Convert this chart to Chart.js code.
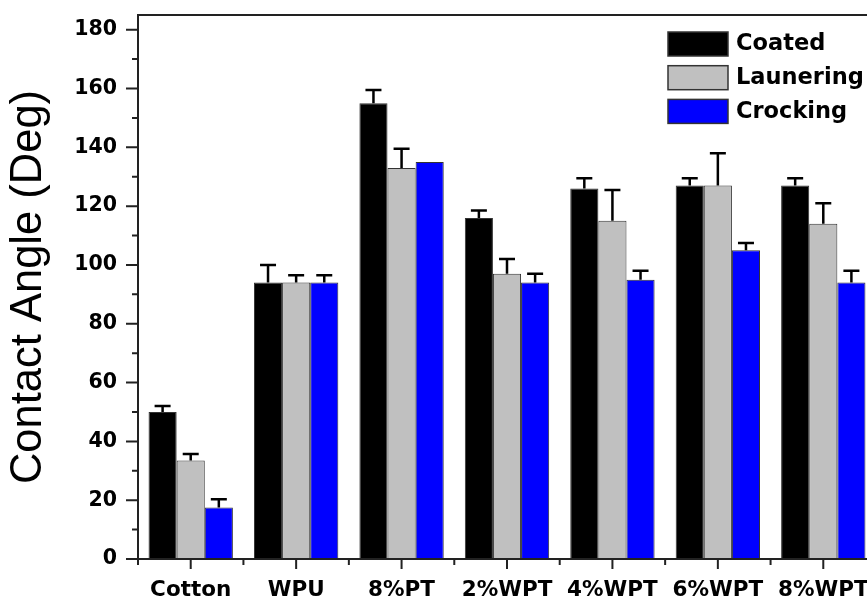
<!DOCTYPE html>
<html>
<head>
<meta charset="utf-8">
<title>Contact Angle</title>
<script src="https://cdn.jsdelivr.net/npm/chart.js@4.4.1/dist/chart.umd.min.js"></script>
<style>
  html, body { margin: 0; padding: 0; overflow: hidden; background: #ffffff; }
  #wrap { width: 900px; height: 600px; }
</style>
</head>
<body>
<div id="wrap"><canvas id="c" width="900" height="600"></canvas></div>
<script>
// Sample groups along the x axis
const categories = ['Cotton', 'WPU', '8%PT', '2%WPT', '4%WPT', '6%WPT', '8%WPT'];

// Contact angle (deg) and upper error for each treatment
const coated = [50, 94, 155, 116, 126, 127, 127];
const coatedErr = [2, 6, 4.5, 2.5, 3.5, 2.5, 2.5];
const launering = [33.5, 94, 133, 97, 115, 127, 114];
const launeringErr = [2.2, 2.5, 6.5, 5, 10.5, 11, 7];
const crocking = [17.5, 94, 135, 94, 95, 105, 94];
const crockingErr = [2.8, 2.5, 0, 3, 3, 2.5, 4];

// Labelled y ticks and the minor ticks between them
const yTicks = [0, 20, 40, 60, 80, 100, 120, 140, 160, 180];
const yMinorTicks = [10, 30, 50, 70, 90, 110, 130, 150, 170];

const AXIS_COLOR = '#222222';
const BOLD_FONT = 'DejaVu Sans';

// Upward-only error bars with caps
const errorBars = {
  id: 'errorBars',
  afterDatasetsDraw(chart) {
    const ctx = chart.ctx;
    const y = chart.scales.y;
    ctx.save();
    ctx.strokeStyle = '#000000';
    ctx.lineWidth = 2.5;
    chart.data.datasets.forEach((ds, di) => {
      const meta = chart.getDatasetMeta(di);
      meta.data.forEach((bar, i) => {
        const e = ds.errors[i];
        if (!e) return;
        const yTop = y.getPixelForValue(ds.data[i] + e);
        ctx.beginPath();
        ctx.moveTo(bar.x, bar.y);
        ctx.lineTo(bar.x, yTop);
        ctx.moveTo(bar.x - 8, yTop);
        ctx.lineTo(bar.x + 8, yTop);
        ctx.stroke();
      });
    });
    ctx.restore();
  }
};

// Box frame with outward major/minor tick marks
const frameAndTicks = {
  id: 'frameAndTicks',
  afterDraw(chart) {
    const ctx = chart.ctx;
    const a = chart.chartArea;
    const xs = chart.scales.x;
    const ys = chart.scales.y;
    ctx.save();
    ctx.strokeStyle = AXIS_COLOR;
    ctx.lineWidth = 2;
    ctx.strokeRect(a.left, a.top, a.right - a.left, a.bottom - a.top);

    ctx.beginPath();
    yTicks.forEach(v => {
      const p = ys.getPixelForValue(v);
      ctx.moveTo(a.left, p);
      ctx.lineTo(a.left - 12, p);
    });
    yMinorTicks.forEach(v => {
      const p = ys.getPixelForValue(v);
      ctx.moveTo(a.left, p);
      ctx.lineTo(a.left - 6, p);
    });
    categories.forEach((c, i) => {
      const p = xs.getPixelForValue(i);
      ctx.moveTo(p, a.bottom);
      ctx.lineTo(p, a.bottom + 10);
      const q = xs.getPixelForValue(i - 0.5);
      ctx.moveTo(q, a.bottom);
      ctx.lineTo(q, a.bottom + 6);
    });
    ctx.stroke();
    ctx.restore();
  }
};

// Legend boxes drawn in the upper right of the plot
const boxLegend = {
  id: 'boxLegend',
  afterDraw(chart) {
    const ctx = chart.ctx;
    const a = chart.chartArea;
    const x0 = a.right - 208;
    const y0 = a.top + 17;
    ctx.save();
    ctx.font = 'bold 22.5px "' + BOLD_FONT + '"';
    ctx.textBaseline = 'middle';
    ctx.textAlign = 'left';
    chart.data.datasets.forEach((ds, i) => {
      const top = y0 + i * 33.7;
      ctx.fillStyle = ds.backgroundColor;
      ctx.fillRect(x0, top, 60, 24);
      ctx.strokeStyle = '#333333';
      ctx.lineWidth = 1.5;
      ctx.strokeRect(x0, top, 60, 24);
      ctx.fillStyle = '#000000';
      ctx.fillText(ds.label, x0 + 68, top + 12.5);
    });
    ctx.restore();
  }
};

new Chart(document.getElementById('c'), {
  type: 'bar',
  data: {
    labels: categories,
    datasets: [
      { label: 'Coated', data: coated, errors: coatedErr, backgroundColor: '#000000' },
      { label: 'Launering', data: launering, errors: launeringErr, backgroundColor: '#c0c0c0' },
      { label: 'Crocking', data: crocking, errors: crockingErr, backgroundColor: '#0000ff' }
    ]
  },
  options: {
    responsive: false,
    animation: false,
    devicePixelRatio: 1,
    layout: { padding: { top: 15, right: 24, left: 0, bottom: 0 } },
    datasets: {
      bar: {
        categoryPercentage: 0.8,
        barPercentage: 1.0,
        borderColor: '#333333',
        borderWidth: 1
      }
    },
    plugins: {
      legend: { display: false },
      tooltip: { enabled: false }
    },
    scales: {
      x: {
        grid: { display: false, drawTicks: false },
        border: { display: false },
        ticks: {
          color: '#000000',
          padding: 19,
          maxRotation: 0,
          font: { family: BOLD_FONT, weight: 'bold', size: 21.5 }
        },
        afterFit(scale) {
          scale.height = 41;
          scale.paddingLeft = 0;
          scale.paddingRight = 0;
        }
      },
      y: {
        min: 0,
        max: 185,
        grid: { display: false, drawTicks: false },
        border: { display: false },
        ticks: {
          color: '#000000',
          padding: 21,
          font: { family: BOLD_FONT, weight: 'bold', size: 20.5 }
        },
        afterBuildTicks(scale) {
          scale.ticks = yTicks.map(v => ({ value: v }));
        },
        afterFit(scale) {
          scale.width = 138;
          scale.paddingTop = 0;
          scale.paddingBottom = 0;
        },
        title: {
          display: true,
          text: 'Contact Angle (Deg)',
          color: '#000000',
          padding: { top: 3, bottom: 0 },
          font: { family: 'Liberation Sans', size: 43.5, weight: 'normal' }
        }
      }
    }
  },
  plugins: [errorBars, frameAndTicks, boxLegend]
});
</script>
</body>
</html>
